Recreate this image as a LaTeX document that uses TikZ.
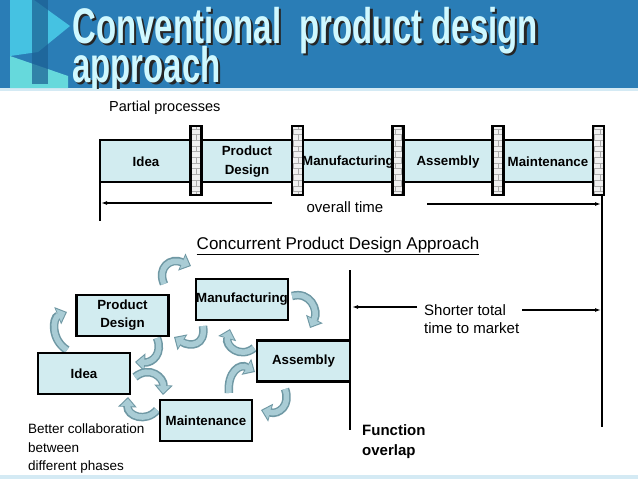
\documentclass[tikz,border=0pt]{standalone}
\usepackage{fontspec}
\setmainfont{Liberation Sans}
\usetikzlibrary{arrows.meta,patterns}
\definecolor{hdrblue}{HTML}{2A7DB6}
\definecolor{titlefg}{HTML}{CFF8FF}
\definecolor{boxfill}{HTML}{D2ECF0}
\definecolor{arrfill}{HTML}{A9CCD5}
\definecolor{arredge}{HTML}{6F98A4}
\definecolor{ribA}{HTML}{45C2E2}
\definecolor{ribB}{HTML}{66D9DC}
\definecolor{ribbar}{HTML}{1B5F92}
\definecolor{lightline}{HTML}{D4EAF4}
\newcommand\shline[1]{\hbox{\rlap{\raisebox{-2.5pt}{\hspace{3.6pt}\color{black!85}#1}}\color{titlefg}#1}}
\newcommand\curvarrow[1]{\draw[carrowO] #1; \draw[carrowI] #1;}
\tikzset{
  carrowO/.style={draw=arredge, line width=8.5pt, -{Triangle[length=10pt,width=18pt]}},
  carrowI/.style={draw=arrfill, line width=5.5pt, shorten >=1.6pt, -{Triangle[length=7.5pt,width=13.5pt]}},
  barlabel/.style={font=\fontsize{13.3}{19}\selectfont\bfseries, align=center, inner sep=0},
  pillar/.style={draw, line width=2.4pt, preaction={fill=gray!12}, pattern=bricks, pattern color=gray!65, minimum width=11pt, minimum height=69pt, inner sep=0},
  cbox/.style={draw, line width=2.5pt, fill=boxfill, minimum width=92pt, minimum height=41pt, inner sep=0, font=\fontsize{13.3}{18}\selectfont\bfseries, align=center},
  plain/.style={inner sep=0, font=\fontsize{15}{18}\selectfont},
  thinarrow/.style={line width=1.2pt, -{Latex[length=6pt,width=4pt]}},
  thickline/.style={line width=2.6pt}
}
\begin{document}
\begin{tikzpicture}[x=1pt,y=-1pt]
\useasboundingbox (0,0) rectangle (638,479);
\fill[white] (0,0) rectangle (638,479);
% header band
\fill[hdrblue] (0,0) rectangle (638,88);
\fill[lightline] (0,88) rectangle (638,91);
% ribbon decoration
\fill[ribA] (10,0) -- (34,0) -- (70,26) -- (38,52) -- (10,56) -- cycle;
\fill[ribB] (10,56) -- (68,76) -- (68,88) -- (10,88) -- cycle;
\fill[ribbar, opacity=0.7] (32,0) rectangle (48,84);
% title
\begin{scope}
\clip (0,0) rectangle (638,88);
\node[anchor=base west, inner sep=0] (title) at (72,82) {\scalebox{0.66}[1]{\fontsize{50}{50}\selectfont\bfseries
  \vbox{\baselineskip=39pt\lineskiplimit=-60pt
    \shline{Conventional\ \ product design}
    \shline{approach}}}};
\end{scope}
% bottom light band
\fill[lightline] (0,475) rectangle (638,479);

% ---------- conventional bar ----------
\node[anchor=west, plain, font=\fontsize{14.5}{18}\selectfont] (pp) at (109,108) {Partial processes};
\node[draw, line width=2.6pt, fill=boxfill, minimum width=500pt, minimum height=42pt, inner sep=0] (bar) at (350,161) {};
\node[pillar] (p1) at (196,160.5) {};
\node[pillar] (p2) at (297.5,160.5) {};
\node[pillar] (p3) at (398,160.5) {};
\node[pillar] (p4) at (498,160.5) {};
\node[pillar] (p5) at (598.5,160.5) {};
\node[barlabel] (l1) at (146,162) {Idea};
\node[barlabel] (l2) at (247,162) {Product\\Design};
\node[barlabel] (l3) at (348,162) {Manufacturing};
\node[barlabel] (l4) at (448,162) {Assembly};
\node[barlabel] (l5) at (548,162) {Maintenance};
% left and right verticals
\coordinate (lv1) at (100,140);
\coordinate (lv2) at (100,221);
\draw[line width=2.2pt] (lv1) -- (lv2);
\coordinate (rv1) at (602,195);
\coordinate (rv2) at (602,427);
\draw[thickline] (rv1) -- (rv2);
\node[plain] (ot) at (345,207) {overall time};
\coordinate (ota) at (272,203);
\coordinate (otb) at (101,203);
\coordinate (otc) at (427,204);
\coordinate (otd) at (601,204);
\draw[thinarrow] (ota) -- (otb);
\draw[thinarrow] (otc) -- (otd);

% ---------- concurrent ----------
\node[plain, font=\fontsize{17}{20}\selectfont] (ctitle) at (338,246) {\underline{Concurrent Product Design Approach}};

% curved arrows
\curvarrow{(164,284) .. controls (157,268) and (170,257) .. (191,266)}
\curvarrow{(292,296) .. controls (310,291) and (319,310) .. (310,328)}
\curvarrow{(67,350) .. controls (51,340) and (52,318) .. (67,312)}
\curvarrow{(157,338) .. controls (163,353) and (153,363) .. (135,362)}
\curvarrow{(203,326) .. controls (206,346) and (190,347) .. (174,337)}
\curvarrow{(254,348) .. controls (240,359) and (225,346) .. (230,329)}
\curvarrow{(135,377) .. controls (150,365) and (164,378) .. (163,395)}
\curvarrow{(229,393) .. controls (227,372) and (240,363) .. (255,372)}
\curvarrow{(285,389) .. controls (291,405) and (279,415) .. (261,410)}
\curvarrow{(157,410) .. controls (146,423) and (127,416) .. (128,397)}

% boxes
\node[cbox] (cpd) at (122.5,315.5) {Product\\Design};
\node[cbox] (cmf) at (242,299.5) {Manufacturing};
\node[cbox] (cid) at (84,373.5) {Idea};
\node[cbox, minimum width=93pt] (cas) at (303.5,361) {Assembly};
\node[cbox] (cmt) at (206,420.5) {Maintenance};

% middle vertical
\coordinate (mv1) at (350,270);
\coordinate (mv2) at (350,430);
\draw[line width=2.8pt] (mv1) -- (mv2);
\node[plain, anchor=west, align=left] (st) at (424,319) {Shorter total\\time to market};
\coordinate (sta) at (417,307);
\coordinate (stb) at (352,307);
\coordinate (stc) at (522,310);
\coordinate (std) at (601,310);
\draw[thinarrow] (sta) -- (stb);
\draw[thinarrow] (stc) -- (std);
\node[plain, anchor=west, align=left, font=\fontsize{15}{20}\selectfont\bfseries] (fo) at (362,442) {Function\\overlap};
\node[plain, anchor=north west, align=left, font=\fontsize{13.5}{18.5}\selectfont] (bc) at (28,424) {Better collaboration\\between\\different phases};
\end{tikzpicture}
\end{document}
